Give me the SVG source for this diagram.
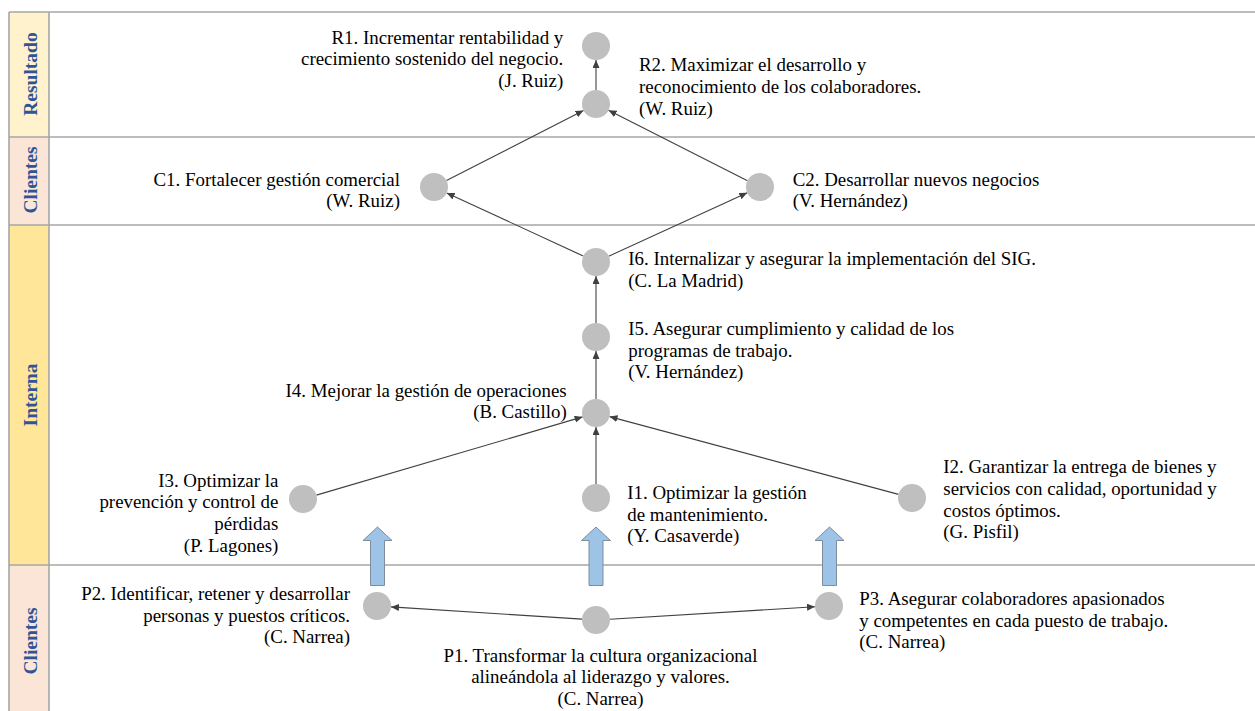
<svg xmlns="http://www.w3.org/2000/svg" width="1255" height="711" viewBox="0 0 1255 711">
<defs>
<style>
.t{font-family:"Liberation Serif","Times New Roman",serif;font-size:18.9px;fill:#000}
.e{text-anchor:end}
.m{text-anchor:middle}
.band{font-family:"Liberation Serif","Times New Roman",serif;font-size:19.5px;font-weight:bold;fill:#2F5597;text-anchor:middle}
.grid{stroke:#A6A6A6;stroke-width:1.6;fill:none}
.node{fill:#BFBFBF}
.c{stroke:#404040;stroke-width:1.1;fill:none;marker-end:url(#ah)}
.blk{fill:#9DC3E6;stroke:#7F8C99;stroke-width:1}
</style>
<marker id="ah" markerUnits="userSpaceOnUse" markerWidth="9" markerHeight="8" refX="8" refY="3.5" orient="auto">
<path d="M0,0 L8,3.5 L0,7 Z" fill="#404040"/>
</marker>
</defs>
<rect width="1255" height="711" fill="#fff"/>
<g id="bands">
<rect x="9" y="12" width="40" height="125" fill="#FFF2CC"/>
<rect x="9" y="137" width="40" height="88" fill="#FBE5D6"/>
<rect x="9" y="225" width="40" height="340" fill="#FFE699"/>
<rect x="9" y="565" width="40" height="146" fill="#FBE5D6"/>
<line class="grid" x1="9" y1="12" x2="1255" y2="12"/>
<line class="grid" x1="9" y1="137" x2="1255" y2="137"/>
<line class="grid" x1="9" y1="225" x2="1255" y2="225"/>
<line class="grid" x1="9" y1="565" x2="1255" y2="565"/>
<line class="grid" x1="9" y1="12" x2="9" y2="711"/>
<line class="grid" x1="49" y1="12" x2="49" y2="711"/>
<text class="band" transform="translate(36.5,74) rotate(-90)">Resultado</text>
<text class="band" transform="translate(36.5,180) rotate(-90)">Clientes</text>
<text class="band" transform="translate(36.5,395) rotate(-90)">Interna</text>
<text class="band" transform="translate(36.5,641) rotate(-90)">Clientes</text>
</g>
<g id="block-arrows">
<path class="blk" d="M377.5,527 L392,540.5 L384.5,540.5 L384.5,585.5 L370.5,585.5 L370.5,540.5 L363,540.5 Z"/>
<path class="blk" d="M596,527 L610.5,540.5 L603,540.5 L603,585.5 L589,585.5 L589,540.5 L581.5,540.5 Z"/>
<path class="blk" d="M829.5,527 L844,540.5 L836.5,540.5 L836.5,585.5 L822.5,585.5 L822.5,540.5 L815,540.5 Z"/>
</g>
<g id="connectors">
<line class="c" x1="596" y1="90" x2="596" y2="60"/>
<line class="c" x1="446.5" y1="180.6" x2="583.5" y2="110.4"/>
<line class="c" x1="747.5" y1="180.7" x2="608.5" y2="110.3"/>
<line class="c" x1="583.3" y1="256.1" x2="446.7" y2="192.9"/>
<line class="c" x1="608.7" y1="256.2" x2="747.3" y2="192.8"/>
<line class="c" x1="596" y1="323" x2="596" y2="276"/>
<line class="c" x1="596" y1="399" x2="596" y2="351"/>
<line class="c" x1="596" y1="484" x2="596" y2="427"/>
<line class="c" x1="316.4" y1="495.1" x2="582.6" y2="416.9"/>
<line class="c" x1="898.5" y1="494.4" x2="609.5" y2="416.6"/>
<line class="c" x1="582" y1="619.1" x2="391" y2="606.9"/>
<line class="c" x1="610" y1="619.2" x2="815" y2="606.8"/>
</g>
<g id="R1"><circle class="node" cx="596" cy="46" r="14"/>
<text class="t e"><tspan x="563.3" y="43.5">R1. Incrementar rentabilidad y</tspan><tspan x="563.3" y="65.2">crecimiento sostenido del negocio.</tspan><tspan x="563.3" y="86.9">(J. Ruiz)</tspan></text></g>
<g id="R2"><circle class="node" cx="596" cy="104" r="14"/>
<text class="t"><tspan x="639" y="71.3">R2. Maximizar el desarrollo y</tspan><tspan x="639" y="93">reconocimiento de los colaboradores.</tspan><tspan x="639" y="114.7">(W. Ruiz)</tspan></text></g>
<g id="C1"><circle class="node" cx="434" cy="187" r="14"/>
<text class="t e"><tspan x="400" y="185.7">C1. Fortalecer gestión comercial</tspan><tspan x="400" y="207.4">(W. Ruiz)</tspan></text></g>
<g id="C2"><circle class="node" cx="760" cy="187" r="14"/>
<text class="t"><tspan x="792.7" y="185.7">C2. Desarrollar nuevos negocios</tspan><tspan x="792.7" y="207.4">(V. Hernández)</tspan></text></g>
<g id="I6"><circle class="node" cx="596" cy="262" r="14"/>
<text class="t"><tspan x="628.3" y="265">I6. Internalizar y asegurar la implementación del SIG.</tspan><tspan x="628.3" y="286.7">(C. La Madrid)</tspan></text></g>
<g id="I5"><circle class="node" cx="596" cy="337" r="14"/>
<text class="t"><tspan x="628.3" y="335">I5. Asegurar cumplimiento y calidad de los</tspan><tspan x="628.3" y="356.7">programas de trabajo.</tspan><tspan x="628.3" y="378.4">(V. Hernández)</tspan></text></g>
<g id="I4"><circle class="node" cx="596" cy="413" r="14"/>
<text class="t e"><tspan x="566.7" y="396.7">I4. Mejorar la gestión de operaciones</tspan><tspan x="566.7" y="418.4">(B. Castillo)</tspan></text></g>
<g id="I3"><circle class="node" cx="303" cy="499" r="14"/>
<text class="t e"><tspan x="278.3" y="486.7">I3. Optimizar la</tspan><tspan x="278.3" y="508.4">prevención y control de</tspan><tspan x="278.3" y="530.1">pérdidas</tspan><tspan x="278.3" y="551.8">(P. Lagones)</tspan></text></g>
<g id="I1"><circle class="node" cx="596" cy="498" r="14"/>
<text class="t"><tspan x="627.3" y="499">I1. Optimizar la gestión</tspan><tspan x="627.3" y="520.7">de mantenimiento.</tspan><tspan x="627.3" y="542.4">(Y. Casaverde)</tspan></text></g>
<g id="I2"><circle class="node" cx="912" cy="498" r="14"/>
<text class="t"><tspan x="943.3" y="473.3">I2. Garantizar la entrega de bienes y</tspan><tspan x="943.3" y="495">servicios con calidad, oportunidad y</tspan><tspan x="943.3" y="516.7">costos óptimos.</tspan><tspan x="943.3" y="538.4">(G. Pisfil)</tspan></text></g>
<g id="P2"><circle class="node" cx="377" cy="606" r="14"/>
<text class="t e"><tspan x="350" y="600">P2. Identificar, retener y desarrollar</tspan><tspan x="350" y="621.7">personas y puestos críticos.</tspan><tspan x="350" y="643.4">(C. Narrea)</tspan></text></g>
<g id="P1"><circle class="node" cx="596" cy="620" r="14"/>
<text class="t m"><tspan x="600.5" y="661.7">P1. Transformar la cultura organizacional</tspan><tspan x="600.5" y="683.4">alineándola al liderazgo y valores.</tspan><tspan x="600.5" y="705.1">(C. Narrea)</tspan></text></g>
<g id="P3"><circle class="node" cx="829" cy="606" r="14"/>
<text class="t"><tspan x="859.3" y="605">P3. Asegurar colaboradores apasionados</tspan><tspan x="859.3" y="626.7">y competentes en cada puesto de trabajo.</tspan><tspan x="859.3" y="648.4">(C. Narrea)</tspan></text></g>
</svg>
